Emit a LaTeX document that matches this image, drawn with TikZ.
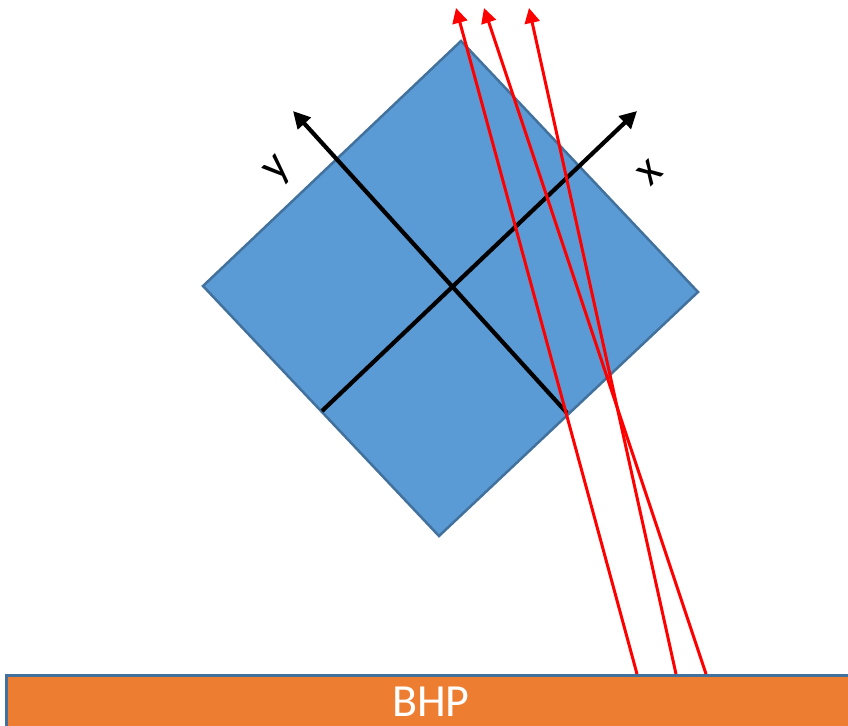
\documentclass[tikz,border=0pt]{standalone}
\usepackage{fontspec}
\setmainfont{Carlito}
\usetikzlibrary{arrows.meta}
\definecolor{blueFill}{HTML}{5B9BD5}
\definecolor{blueEdge}{HTML}{41719C}
\definecolor{orangeFill}{HTML}{ED7D31}
\tikzset{
  axisline/.style={draw=black,line width=4.2pt,-{Triangle[length=17pt,width=17pt]}},
  ray/.style={draw=red,line width=3pt,-{Triangle[length=15pt,width=15pt]}},
  axislabel/.style={font=\fontsize{46}{46}\selectfont,inner sep=0pt,text=black},
}
\begin{document}
\begin{tikzpicture}[x=1pt,y=-1pt]
\useasboundingbox (0,0) rectangle (848,725);
% plate
\draw[fill=blueFill,draw=blueEdge,line width=2.5pt,line join=miter] (461,41) -- (698,292) -- (439,536) -- (203,286) -- cycle;
% substrate
\clip (0,0) rectangle (848,725);
\node[draw=blueEdge,fill=orangeFill,line width=2.5pt,minimum width=860pt,minimum height=70pt,anchor=north west,inner sep=0pt] (bhp) at (5,674) {};
\node[text=white,font=\fontsize{46}{46}\selectfont,inner sep=0pt] (bhplabel) at (431,701.5) {BHP};
% axes
\coordinate (xs) at (322,411);
\coordinate (xe) at (637,111);
\coordinate (ys) at (567,413);
\coordinate (ye) at (293,111);
\draw[axisline] (xs) -- (xe);
\draw[axisline] (ys) -- (ye);
\node[axislabel,rotate=47] (ylabel) at (279,171) {y};
\node[axislabel,rotate=44] (xlabel) at (650,173) {x};
% rays
\coordinate (r1s) at (637,674);
\coordinate (r1e) at (456,8);
\coordinate (r2s) at (706,674);
\coordinate (r2e) at (484,8);
\coordinate (r3s) at (676,674);
\coordinate (r3e) at (529,8);
\draw[ray] (r1s) -- (r1e);
\draw[ray] (r2s) -- (r2e);
\draw[ray] (r3s) -- (r3e);
\end{tikzpicture}
\end{document}
